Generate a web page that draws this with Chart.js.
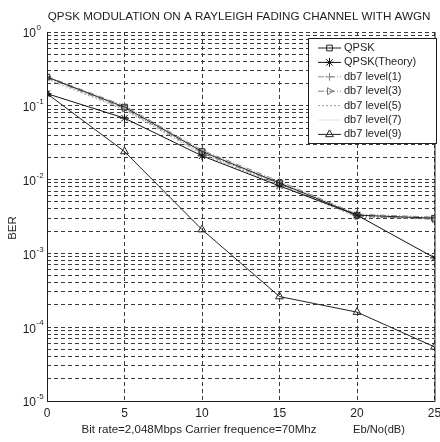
<!DOCTYPE html>
<html>
<head>
  <title>QPSK BER</title>
  <script src="https://cdn.jsdelivr.net/npm/chart.js"></script>
  <style>
    body { margin: 0; background: #fff; }
    canvas { display: block; }
  </style>
</head>
<body>
  <canvas id="berChart" width="440" height="442"></canvas>
  <script>
    // Eb/No values (dB)
    const ebNo = [0, 5, 10, 15, 20, 25];

    // BER
    const qpsk = [0.245, 0.096, 0.024, 0.009, 0.0033, 0.003];
    const qpskTheory = [0.146, 0.068, 0.021, 0.0082, 0.0033, 0.00087];
    const db7Level1 = [0.25, 0.1, 0.025, 0.0095, 0.0034, 0.0031];
    const db7Level3 = [0.24, 0.092, 0.023, 0.0088, 0.0032, 0.0029];
    const db7Level5 = [0.23, 0.088, 0.022, 0.0085, 0.0031, 0.003];
    const db7Level7 = [0.25, 0.09, 0.024, 0.009, 0.0033, 0.003];
    const db7Level9 = [0.146, 0.024, 0.0021, 0.00026, 0.00016, 0.000054];

    const seriesLabels = ['QPSK', 'QPSK(Theory)', 'db7 level(1)', 'db7 level(3)', 'db7 level(5)', 'db7 level(7)', 'db7 level(9)'];

    // axis ticks
    const xTicks = [0, 5, 10, 15, 20, 25];
    const yDecades = [-5, -4, -3, -2, -1, 0];

    const titleText = 'QPSK MODULATION ON A RAYLEIGH FADING CHANNEL WITH AWGN';
    const xNote = 'Bit rate=2,048Mbps Carrier frequence=70Mhz';
    const xTitle = 'Eb/No(dB)';
    const yTitle = 'BER';

    const toPoints = arr => arr.map((v, i) => ({ x: ebNo[i], y: v }));

    const FONT = '"Liberation Sans", Arial, sans-serif';
    const ink = '#1e1e1e';

    // pick a font size so the text spans the width it has in the scan
    function fitFont(ctx, text, width) {
      ctx.font = '10px ' + FONT;
      const size = 10 * width / ctx.measureText(text).width;
      ctx.font = size.toFixed(2) + 'px ' + FONT;
    }

    const styles = [
      { color: '#222', dash: [], pointStyle: 'rect', rotation: 0, radius: 4 },
      { color: '#111', dash: [], pointStyle: 'star', rotation: 0, radius: 4.5 },
      { color: '#8a8a8a', dash: [6, 2, 1, 2], pointStyle: 'cross', rotation: 0, radius: 4 },
      { color: '#7a7a7a', dash: [6, 2, 1, 2], pointStyle: 'triangle', rotation: 90, radius: 4 },
      { color: '#a0a0a0', dash: [2, 2], pointStyle: false, rotation: 0, radius: 0 },
      { color: '#e2e2e2', dash: [], pointStyle: false, rotation: 0, radius: 0 },
      { color: '#222', dash: [], pointStyle: 'triangle', rotation: 0, radius: 4.5 }
    ];
    const seriesData = [qpsk, qpskTheory, db7Level1, db7Level3, db7Level5, db7Level7, db7Level9];

    const datasets = seriesData.map((arr, i) => ({
      label: seriesLabels[i],
      data: toPoints(arr),
      borderColor: styles[i].color,
      borderWidth: 1,
      borderDash: styles[i].dash,
      backgroundColor: 'rgba(255,255,255,0)',
      pointStyle: styles[i].pointStyle,
      pointRotation: styles[i].rotation,
      pointRadius: styles[i].radius,
      pointBorderColor: styles[i].color,
      pointBackgroundColor: 'rgba(255,255,255,0)',
      pointBorderWidth: 1,
      fill: false,
      tension: 0
    }));

    // title, axis labels, frame, legend drawn on top of the chart
    const decorPlugin = {
      id: 'decor',
      afterDraw(chart) {
        const ctx = chart.ctx;
        const area = chart.chartArea;
        const yScale = chart.scales.y;
        ctx.save();

        // frame
        ctx.strokeStyle = ink;
        ctx.lineWidth = 1;
        ctx.setLineDash([]);
        ctx.beginPath();
        ctx.moveTo(area.left + 0.5, area.top);
        ctx.lineTo(area.left + 0.5, area.bottom + 0.5);
        ctx.lineTo(area.right + 0.5, area.bottom + 0.5);
        ctx.lineTo(area.right + 0.5, area.top);
        ctx.stroke();

        ctx.fillStyle = ink;
        // title
        fitFont(ctx, titleText, 383);
        ctx.textAlign = 'center';
        ctx.textBaseline = 'alphabetic';
        ctx.fillText(titleText, 239, 20);

        // y tick labels with superscript exponents
        yDecades.forEach(e => {
          const py = yScale.getPixelForValue(Math.pow(10, e));
          ctx.font = '12px ' + FONT;
          ctx.textAlign = 'right';
          ctx.textBaseline = 'middle';
          ctx.fillText('10', 36, py + 2);
          ctx.font = '8px ' + FONT;
          ctx.textAlign = 'left';
          ctx.fillText(e === 0 ? '0' : '-' + Math.abs(e), 36.5, py - 4);
        });

        // y title
        ctx.save();
        ctx.translate(13, 228);
        ctx.rotate(-Math.PI / 2);
        ctx.font = '11.5px ' + FONT;
        ctx.textAlign = 'center';
        ctx.textBaseline = 'middle';
        ctx.fillText(yTitle, 0, 0);
        ctx.restore();

        // x notes
        ctx.textAlign = 'center';
        ctx.textBaseline = 'middle';
        fitFont(ctx, xNote, 235);
        ctx.fillText(xNote, 199, 430);
        fitFont(ctx, xTitle, 52);
        ctx.fillText(xTitle, 379, 430);

        // legend
        const lx = 308, ly = 38, lw = 129, lh = 106;
        ctx.fillStyle = '#fff';
        ctx.fillRect(lx, ly, lw, lh);
        ctx.strokeStyle = ink;
        ctx.strokeRect(lx + 0.5, ly + 0.5, lw - 1, lh - 1);
        chart.data.datasets.forEach((ds, i) => {
          const y = 48 + i * 14.4;
          ctx.strokeStyle = ds.borderColor;
          ctx.setLineDash(ds.borderDash || []);
          ctx.beginPath();
          ctx.moveTo(318, y);
          ctx.lineTo(341, y);
          ctx.stroke();
          ctx.setLineDash([]);
          if (ds.pointStyle) {
            ctx.fillStyle = 'rgba(255,255,255,0)';
            Chart.helpers.drawPoint(ctx, {
              pointStyle: ds.pointStyle,
              rotation: ds.pointRotation,
              radius: ds.pointRadius,
              borderWidth: 1
            }, 329.5, y);
          }
          ctx.fillStyle = ink;
          ctx.font = '11px ' + FONT;
          ctx.textAlign = 'left';
          ctx.textBaseline = 'middle';
          ctx.fillText(ds.label, 344, y);
        });
        ctx.restore();
      }
    };

    const config = {
      type: 'line',
      data: { datasets },
      options: {
        responsive: false,
        animation: false,
        layout: { padding: { top: 32, right: 3, left: 0, bottom: 0 } },
        plugins: {
          legend: { display: false },
          tooltip: { enabled: false }
        },
        scales: {
          x: {
            type: 'linear',
            min: 0,
            max: 25,
            afterBuildTicks(scale) {
              scale.ticks = xTicks.map(v => ({ value: v }));
            },
            afterFit(scale) {
              scale.height = 41;
              scale.paddingLeft = 0;
              scale.paddingRight = 0;
            },
            ticks: {
              color: ink,
              padding: 5,
              font: { size: 12, family: FONT }
            },
            grid: { color: '#3a3a3a', lineWidth: 1, drawTicks: false },
            border: { display: false, dash: [4, 3] }
          },
          y: {
            type: 'logarithmic',
            min: 1e-5,
            max: 1,
            afterBuildTicks(scale) {
              const t = [];
              yDecades.forEach(e => {
                const base = Math.pow(10, e);
                if (e === 0) { t.push({ value: 1 }); return; }
                for (let m = 1; m <= 9; m++) t.push({ value: m * base });
              });
              scale.ticks = t;
            },
            afterFit(scale) {
              scale.width = 47;
              scale.paddingTop = 0;
              scale.paddingBottom = 0;
            },
            ticks: { display: false, autoSkip: false },
            grid: { color: '#3a3a3a', lineWidth: 1, drawTicks: false },
            border: { display: false, dash: [4, 3] }
          }
        }
      },
      plugins: [decorPlugin]
    };

    new Chart(document.getElementById('berChart'), config);
  </script>
</body>
</html>
